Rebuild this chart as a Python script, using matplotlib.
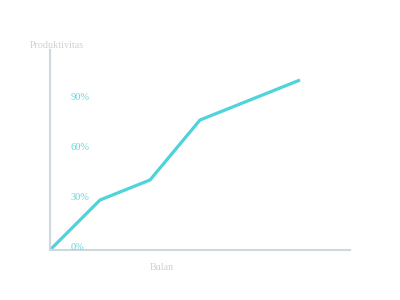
import matplotlib
matplotlib.use("Agg")
import matplotlib.pyplot as plt

# month index and productivity (%)
months = [0, 1, 2, 3, 5]
produktivitas = [0, 30, 42, 78, 102]
yticks = [0, 30, 60, 90]
ytick_labels = ["0%", "30%", "60%", "90%"]

plt.rcParams["font.family"] = ["Liberation Serif", "DejaVu Serif"]

fig = plt.figure(figsize=(4, 3), dpi=100)
ax = fig.add_axes([0.125, 1 / 6, 0.75, 2 / 3])

ax.plot(months, produktivitas, color="#4fd3db", lw=2.3, solid_capstyle="butt")
ax.set_xlim(0, 6)
ax.set_ylim(0, 120)

for s in ("top", "right"):
    ax.spines[s].set_visible(False)
for s in ("left", "bottom"):
    ax.spines[s].set_color("#cfd8dc")
    ax.spines[s].set_linewidth(1.5)

ax.set_xticks([])
ax.set_yticks([])
for v, lab in zip(yticks, ytick_labels):
    ax.annotate(lab, (0, v), xytext=(14.5, 2), textcoords="offset points",
                ha="left", va="center", fontsize=7.5, color="#66d6dd")

fig.text(30 / 400, 1 - 46 / 300, "Produktivitas", ha="left", va="center",
         fontsize=7.2, color="#d0d0d0")
fig.text(162 / 400, 1 - 267 / 300, "Bulan", ha="center", va="center",
         fontsize=7.2, color="#d0d0d0")

fig.savefig("out.png", dpi=100)
